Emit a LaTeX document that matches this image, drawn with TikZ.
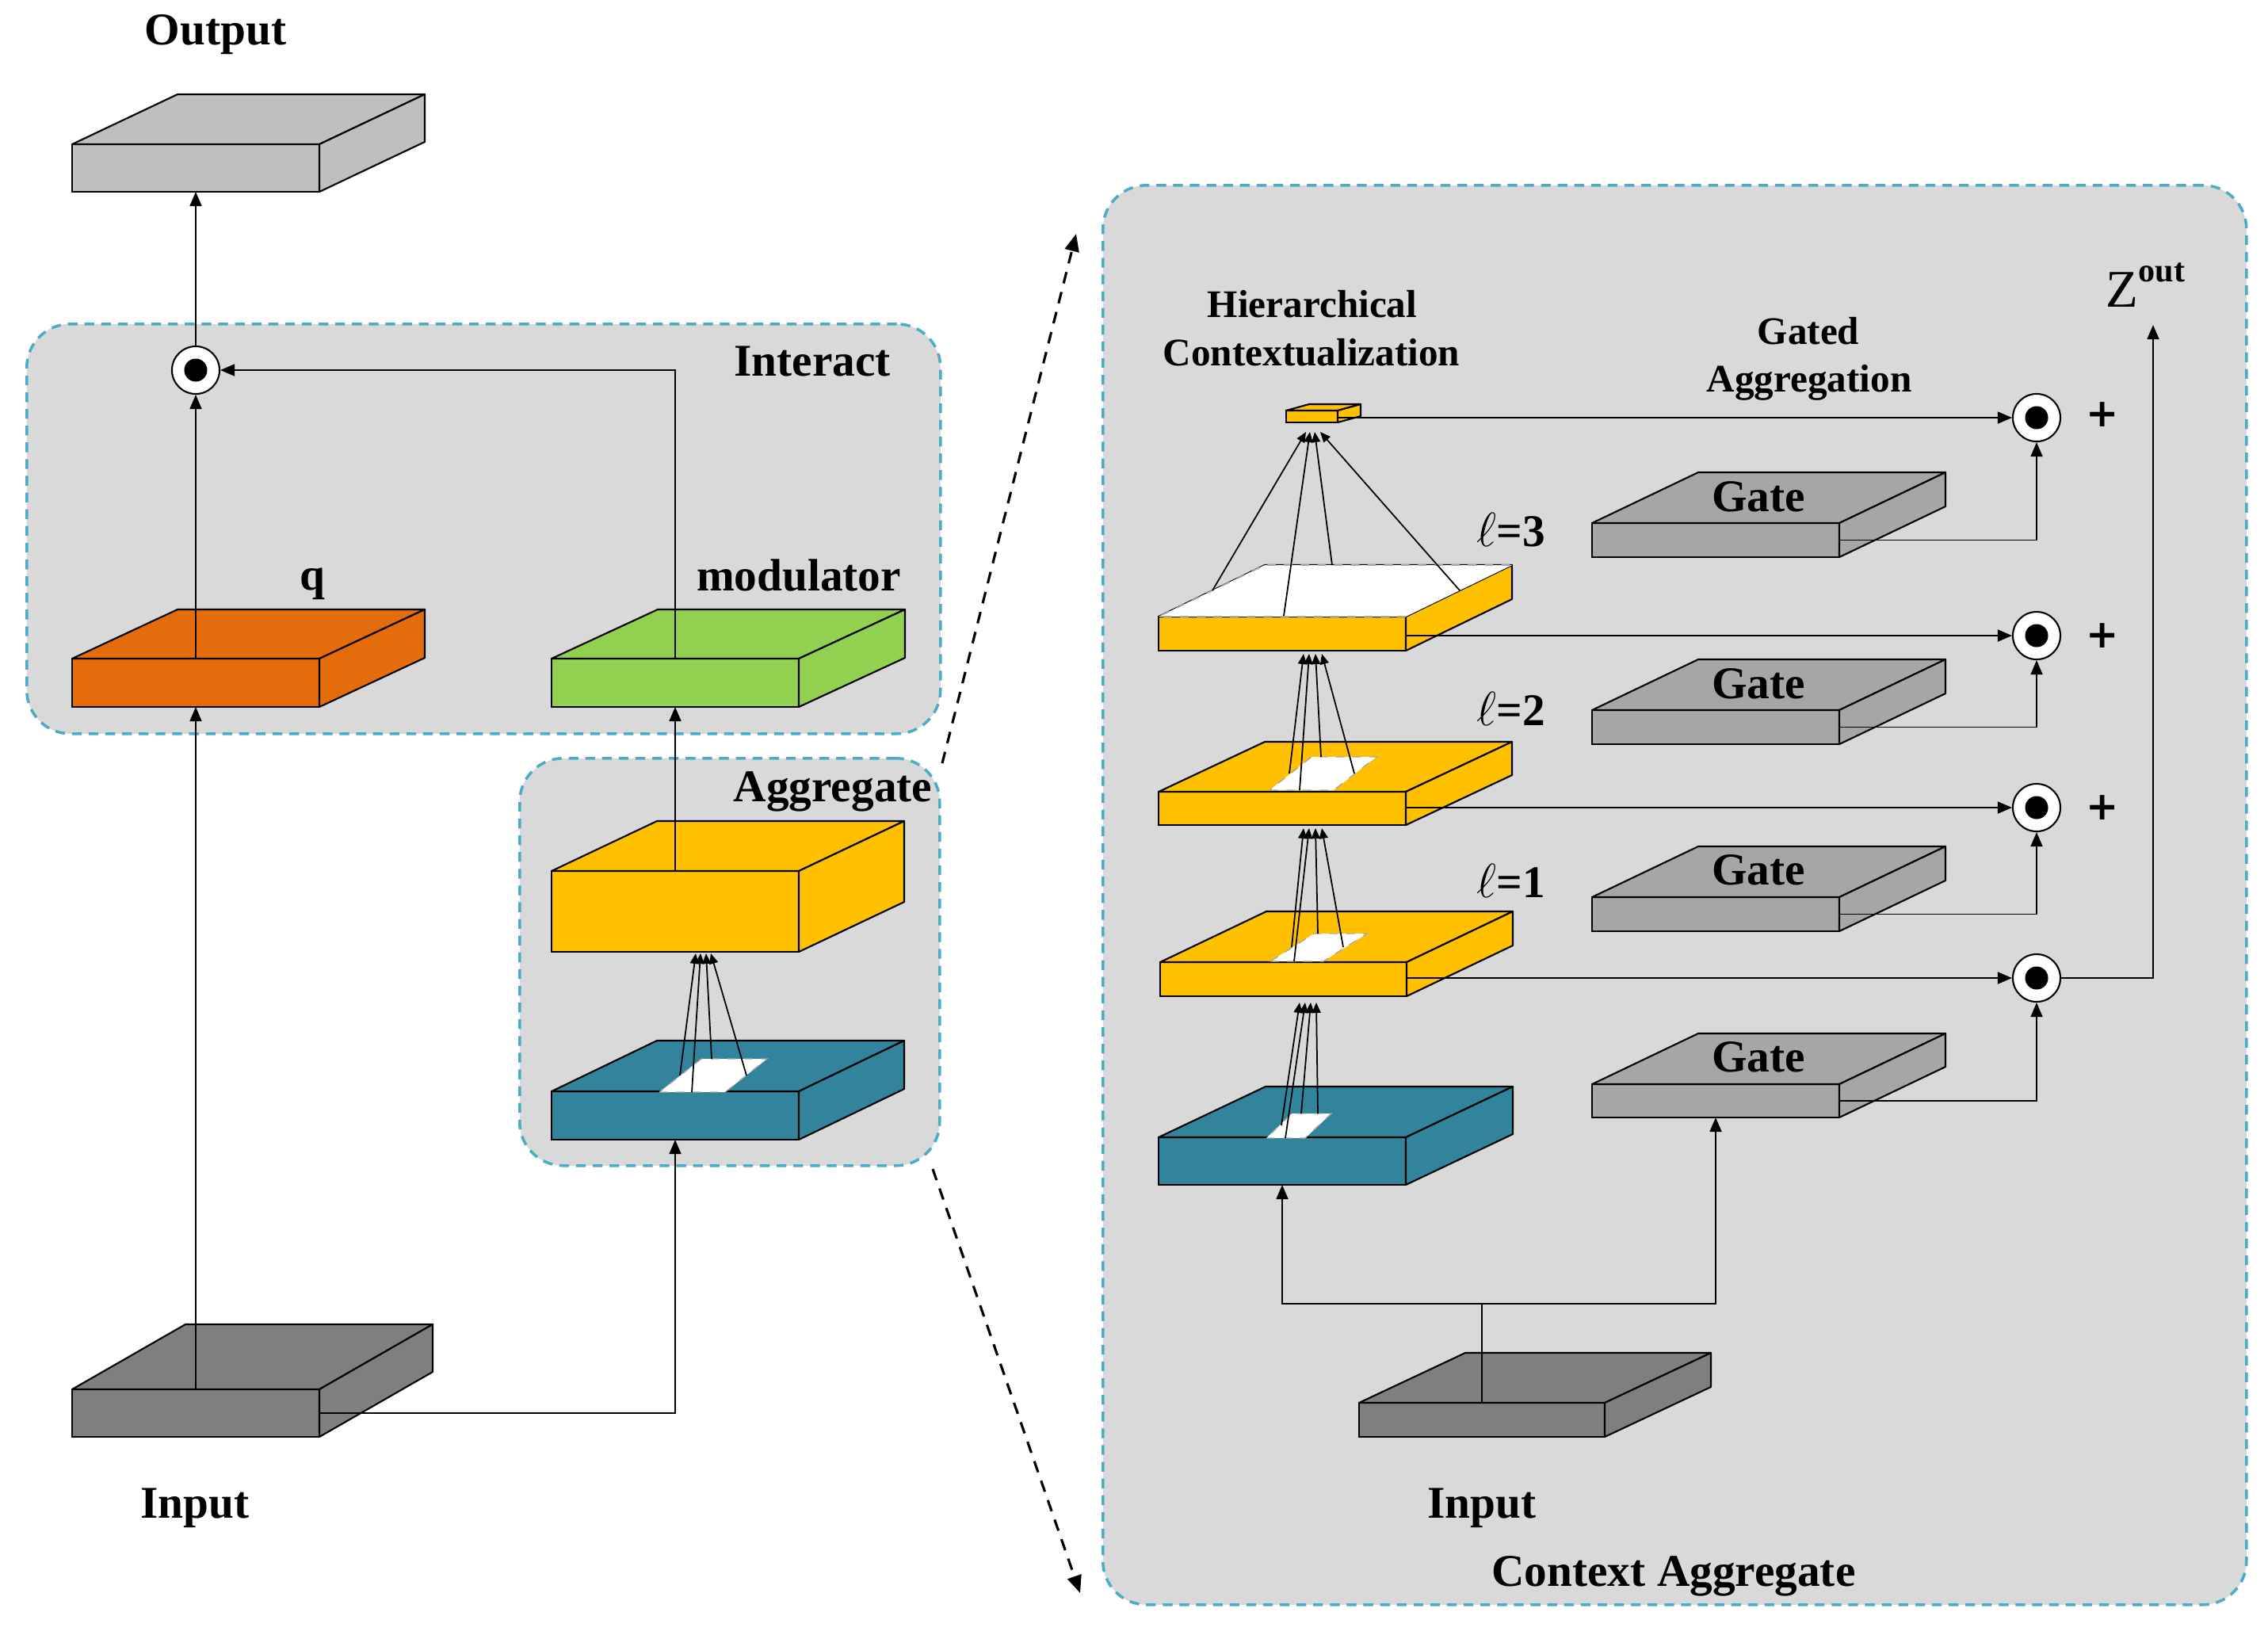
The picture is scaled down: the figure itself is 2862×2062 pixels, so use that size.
\documentclass[tikz,border=0pt]{standalone}
\usepackage{fontspec}
\setmainfont{Liberation Serif}
\newfontfamily\plusfont{DejaVu Sans}
\usetikzlibrary{arrows.meta,calc}
\definecolor{panelfill}{HTML}{D9D9D9}
\definecolor{panelborder}{HTML}{4BACC6}
\definecolor{outgray}{HTML}{BFBFBF}
\definecolor{qorange}{HTML}{E46C0A}
\definecolor{modgreen}{HTML}{92D050}
\definecolor{featyellow}{HTML}{FFC000}
\definecolor{featteal}{HTML}{31849B}
\definecolor{ingray}{HTML}{7F7F7F}
\definecolor{gategray}{HTML}{A6A6A6}
\newcommand\cuboid[8]{%
  \node[inner sep=0pt, outer sep=0pt, minimum width=#4*0.01cm, minimum height=#5*0.01cm,
        anchor=north west, fill=#8, draw=black, line width=0.6pt] (#1) at (#2,#3) {};
  \filldraw[fill=#8, draw=black, line width=0.6pt, line join=round]
     (#1.north west) -- ++(#6,-#7) -- ++(#4,0) -- (#1.north east) -- cycle;
  \filldraw[fill=#8, draw=black, line width=0.6pt, line join=round]
     (#1.north east) -- ++(#6,-#7) -- ++(0,#5) -- (#1.south east) -- cycle;
}
\begin{document}
\begin{tikzpicture}[x=0.01cm, y=-0.01cm,
  panel/.style={draw=panelborder, fill=panelfill, dash pattern=on 3.5pt off 2.5pt,
     line width=1pt, rounded corners=0.55cm, inner sep=0pt, anchor=north west},
  lbl/.style={font=\fontsize{16.3}{19}\selectfont\bfseries, anchor=base, inner sep=0pt},
  slbl/.style={font=\fontsize{14}{17}\selectfont\bfseries, anchor=base, inner sep=0pt},
  plussign/.style={font=\plusfont\fontsize{14}{16}\selectfont\bfseries, inner sep=0pt},
  arr/.style={-{Triangle[length=0.18cm,width=0.15cm]}, line width=0.5pt},
  harr/.style={-{Triangle[length=0.13cm,width=0.11cm]}, line width=0.5pt},
  darr/.style={-{Triangle[length=0.22cm,width=0.18cm]}, line width=0.9pt, dash pattern=on 4.2pt off 3.2pt},
  odot/.style={circle, draw=black, line width=0.6pt, fill=white, minimum size=0.6cm, inner sep=0pt,
     path picture={\fill[black] (path picture bounding box.center) circle (0.145cm);}},
  patch/.style={fill=white, draw=gray!70, dashed, line width=0.4pt}
]
\useasboundingbox (0,0) rectangle (2862,2062);

% ---------------- panels ----------------
\node[panel, minimum width=1153*0.01cm, minimum height=517*0.01cm] (interact) at (32,407) {};
\node[panel, minimum width=530*0.01cm, minimum height=514*0.01cm] (aggp) at (654,955) {};
\node[panel, minimum width=1443*0.01cm, minimum height=1791*0.01cm] (ctxp) at (1390,232) {};

% ---------------- left: boxes ----------------
\cuboid{out}{91}{182}{312}{60}{133}{63}{outgray}
\cuboid{q}{91}{831}{312}{61}{133}{62}{qorange}
\cuboid{mod}{696}{831}{312}{61}{134}{62}{modgreen}
\cuboid{yelA}{696}{1099}{312}{102}{133}{63}{featyellow}
\cuboid{tealA}{696}{1377}{312}{61}{133}{64}{featteal}
\cuboid{in}{91}{1753}{312}{60}{143}{82}{ingray}

% patch on left teal
\path[patch] (832,1378) -- (915,1378) -- (968,1336) -- (885,1336) -- cycle;

\node[odot] (c0) at (247,467) {};

% ---------------- left: connectors ----------------
\draw[arr] (q.north) -- (c0.south);
\draw[arr] (c0.north) -- (out.south);
\draw[arr] (mod.north) |- (c0.east);
\draw[arr] (in.north) -- (q.south);
\draw[arr] (in.east) -| (tealA.south);
\draw[arr] (yelA.north) -- (mod.south);
\foreach \sx/\sy/\tx in {858/1357/878, 873/1378/884, 898/1336/891, 942/1357/897}
  \draw[harr] (\sx,\sy) -- (\tx,1203);

% ---------------- left: labels ----------------
\node[lbl] (tOut) at (272,56) {Output};
\node[lbl] (tInteract) at (1025,474) {Interact};
\node[lbl] (tq) at (394,744) {q};
\node[lbl] (tmod) at (1008,745) {modulator};
\node[lbl] (tagg) at (1051,1011) {Aggregate};
\node[lbl] (tin) at (246,1915) {Input};

% ---------------- dashed zoom lines ----------------
\coordinate (ds1) at (1189,963);
\coordinate (dtop) at (1358,295);
\coordinate (ds2) at (1177,1475);
\coordinate (dbot) at (1363,2010);
\draw[darr] (ds1) -- (dtop);
\draw[darr] (ds2) -- (dbot);

% ---------------- right: boxes ----------------
\cuboid{small}{1623}{518}{65}{15}{29}{8}{featyellow}
\cuboid{lthree}{1462}{778}{312}{43}{134}{65}{featyellow}
\path[fill=white] (1462,778) -- (1596,713) -- (1908,713) -- (1774,778) -- cycle;
\draw[gray!70, dashed, line width=0.5pt] (1774,778) -- (1462,778) -- (1596,713) -- (1908,713);
\cuboid{ltwo}{1462}{999}{312}{42}{134}{63}{featyellow}
\path[patch] (1602,997) -- (1683,997) -- (1737,955) -- (1655,955) -- cycle;
\cuboid{lone}{1464}{1214}{311}{43}{134}{64}{featyellow}
\path[patch] (1603,1213) -- (1670,1213) -- (1725,1178) -- (1658,1178) -- cycle;
\cuboid{tealB}{1462}{1435}{312}{60}{135}{64}{featteal}
\path[patch] (1598,1436) -- (1647,1436) -- (1680,1405) -- (1630,1405) -- cycle;

\cuboid{gateA}{2009}{660}{312}{43}{134}{64}{gategray}
\cuboid{gateB}{2009}{896}{312}{43}{134}{64}{gategray}
\cuboid{gateC}{2009}{1132}{312}{43}{134}{64}{gategray}
\cuboid{gateD}{2009}{1368}{312}{42}{134}{64}{gategray}
\cuboid{inB}{1715}{1770}{310}{43}{134}{63}{ingray}

\node[odot] (c1) at (2570,527) {};
\node[odot] (c2) at (2570,802) {};
\node[odot] (c3) at (2570,1019) {};
\node[odot] (c4) at (2570,1234) {};

% ---------------- right: connectors ----------------
\foreach \sx/\sy/\tx in {1530/745/1648, 1620/777/1653, 1681/713/1659, 1842/745/1666}
  \draw[harr] (\sx,\sy) -- (\tx,545);
\foreach \sx/\sy/\tx in {1627/976/1645, 1640/997/1652, 1667/955/1660, 1709/976/1668}
  \draw[harr] (\sx,\sy) -- (\tx,825);
\foreach \sx/\sy/\tx in {1630/1195/1645, 1633/1213/1652, 1663/1178/1660, 1695/1195/1668}
  \draw[harr] (\sx,\sy) -- (\tx,1045);
\foreach \sx/\sy/\tx in {1617/1420/1640, 1622/1436/1647, 1642/1405/1654, 1663/1405/1661}
  \draw[harr] (\sx,\sy) -- (\tx,1265);

\draw[arr] (small.east |- c1) -- (c1.west);
\draw[arr] (lthree.east |- c2) -- (c2.west);
\draw[arr] (ltwo.east |- c3) -- (c3.west);
\draw[arr] (lone.east |- c4) -- (c4.west);
\draw[arr] (gateA.east) -| (c1.south);
\draw[arr] (gateB.east) -| (c2.south);
\draw[arr] (gateC.east) -| (c3.south);
\draw[arr] (gateD.east) -| (c4.south);
\coordinate (zout) at (2717,410);
\draw[arr] (c4.east) -| (zout);
\coordinate (j) at (inB.north |- 0,1645);
\draw[line width=0.5pt] (inB.north) -- (j);
\draw[arr] (j) -| (tealB.south);
\draw[arr] (j) -| (gateD.south);

% ---------------- right: labels ----------------
\node[slbl] (thier) at (1656,400) {Hierarchical};
\node[slbl] (tctx) at (1655,461) {Contextualization};
\node[slbl] (tgated) at (2282,434) {Gated};
\node[slbl] (taggn) at (2283,494) {Aggregation};
\node[lbl] (tgA) at (2219,645) {Gate};
\node[lbl] (tgB) at (2219,881) {Gate};
\node[lbl] (tgC) at (2219,1116) {Gate};
\node[lbl] (tgD) at (2219,1352) {Gate};
\node[lbl] (tl3) at (1907,689) {$\ell$=3};
\node[lbl] (tl2) at (1907,915) {$\ell$=2};
\node[lbl] (tl1) at (1907,1132) {$\ell$=1};
\node[plussign] (p1) at (2653,523) {+};
\node[plussign] (p2) at (2653,802) {+};
\node[plussign] (p3) at (2653,1019) {+};
\node[anchor=base west, inner sep=0pt] (tz) at (2657,387)
  {\fontsize{19}{20}\selectfont Z\raisebox{9pt}{\fontsize{12}{12}\selectfont\bfseries out}};
\node[lbl] (tinB) at (1870,1915) {Input};
\node[lbl] (tctxagg) at (2112,2001) {Context Aggregate};
\end{tikzpicture}
\end{document}
